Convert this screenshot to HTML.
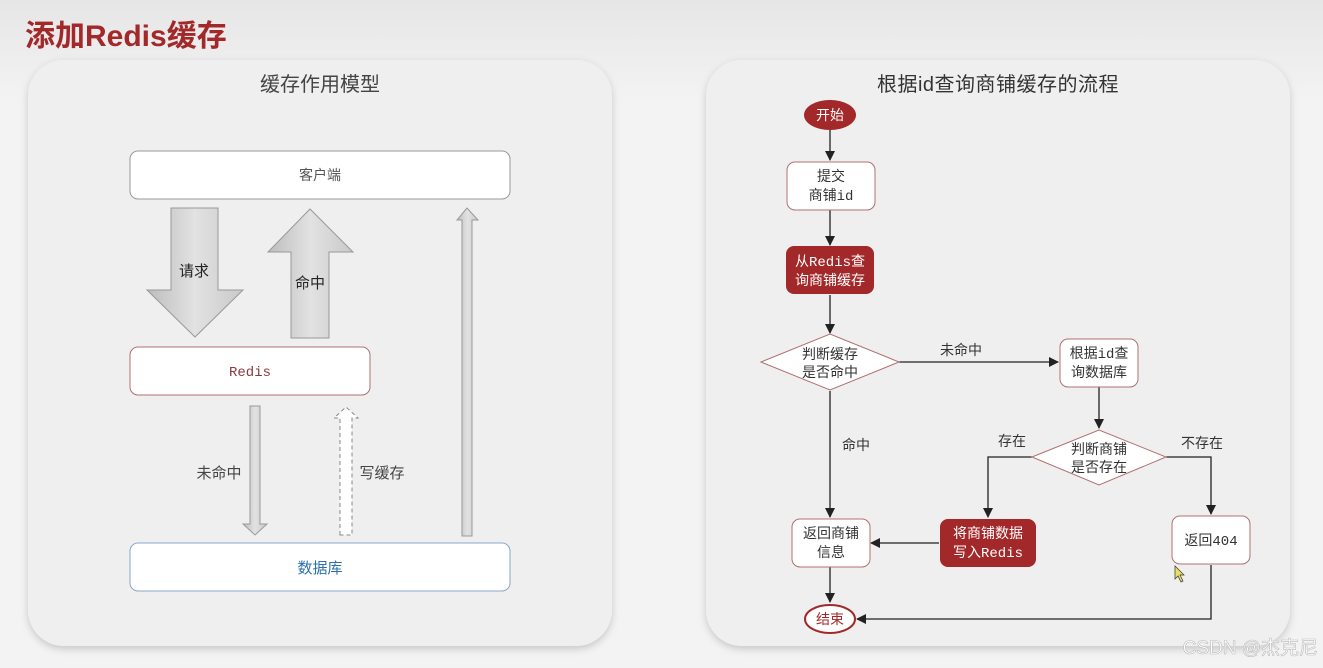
<!DOCTYPE html>
<html><head><meta charset="utf-8"><style>
html,body{margin:0;padding:0;width:1323px;height:668px;overflow:hidden;background:#f2f2f2}
svg{display:block}
text{font-family:"Liberation Sans","Noto Sans CJK SC",sans-serif}
.m{font-family:"Liberation Mono","Noto Sans CJK SC",monospace}
</style></head><body>
<svg width="1323" height="668" viewBox="0 0 1323 668" xmlns="http://www.w3.org/2000/svg">
<defs>
<linearGradient id="bg" x1="0" y1="0" x2="0" y2="1">
<stop offset="0" stop-color="#e6e6e6"/><stop offset="0.15" stop-color="#f3f3f3"/><stop offset="1" stop-color="#f3f3f3"/></linearGradient>
<linearGradient id="ag" x1="0" y1="0" x2="1" y2="0">
<stop offset="0" stop-color="#bdbdbd"/><stop offset="0.5" stop-color="#e2e2e2"/><stop offset="1" stop-color="#c9c9c9"/></linearGradient>
<filter id="sh" x="-5%" y="-5%" width="110%" height="110%"><feDropShadow dx="0" dy="3" stdDeviation="4" flood-color="#000" flood-opacity="0.18"/></filter>
<marker id="ar" markerWidth="10" markerHeight="10" refX="9" refY="5" orient="auto" markerUnits="userSpaceOnUse"><path d="M0,0 L10,5 L0,10 z" fill="#222"/></marker>
</defs>
<rect width="1323" height="668" fill="url(#bg)"/>
<text x="25" y="46" font-size="30" font-weight="bold" fill="#a3282a">添加Redis缓存</text>

<!-- left panel -->
<rect x="28" y="60" width="584" height="586" rx="36" fill="#efefef" filter="url(#sh)"/>
<text x="320" y="91" font-size="20" fill="#444" text-anchor="middle">缓存作用模型</text>
<rect x="130" y="151" width="380" height="48" rx="8" fill="#fff" stroke="#999"/>
<text x="320" y="180" font-size="14" fill="#555" text-anchor="middle">客户端</text>
<path d="M171,208 H218 V290 H243 L195,337 L147,290 H171 Z" fill="url(#ag)" stroke="#999"/>
<text x="194" y="276" font-size="15" fill="#222" text-anchor="middle">请求</text>
<path d="M310,209 L353,252 H329 V338 H291 V252 H268 Z" fill="url(#ag)" stroke="#999"/>
<text x="310" y="288" font-size="15" fill="#222" text-anchor="middle">命中</text>
<path d="M462,536 V220 H457 L467,208 L478,220 H472 V536 Z" fill="url(#ag)" stroke="#999"/>
<rect x="130" y="347" width="240" height="48" rx="8" fill="#fff" stroke="#b07070"/>
<text x="250" y="376" font-size="14" fill="#8a3a3a" text-anchor="middle" class="m">Redis</text>
<path d="M250,406 H260 V524 H267 L255,535 L243,524 H250 Z" fill="url(#ag)" stroke="#999"/>
<text x="219" y="478" font-size="15" fill="#444" text-anchor="middle">未命中</text>
<path d="M340,535 V418 H334 L346,407 L358,418 H352 V535 Z" fill="#fff" stroke="#888" stroke-dasharray="4,3"/>
<text x="382" y="478" font-size="15" fill="#444" text-anchor="middle">写缓存</text>
<rect x="130" y="543" width="380" height="48" rx="8" fill="#fff" stroke="#8aa8c8"/>
<text x="320" y="573" font-size="15" fill="#2a70b0" text-anchor="middle">数据库</text>

<!-- right panel -->
<rect x="706" y="60" width="584" height="586" rx="36" fill="#efefef" filter="url(#sh)"/>
<text x="998" y="91" font-size="20" fill="#333" text-anchor="middle" letter-spacing="0.5">根据id查询商铺缓存的流程</text>
<g stroke="#222" stroke-width="1.3" fill="none">
<line x1="830" y1="130" x2="830" y2="160" marker-end="url(#ar)"/>
<line x1="830" y1="210" x2="830" y2="245" marker-end="url(#ar)"/>
<line x1="830" y1="295" x2="830" y2="333" marker-end="url(#ar)"/>
<line x1="899" y1="362" x2="1058" y2="362" marker-end="url(#ar)"/>
<line x1="830" y1="391" x2="830" y2="517" marker-end="url(#ar)"/>
<line x1="1099" y1="387" x2="1099" y2="428" marker-end="url(#ar)"/>
<polyline points="1032,457 988,457 988,517" marker-end="url(#ar)"/>
<polyline points="1166,457 1211,457 1211,514" marker-end="url(#ar)"/>
<line x1="939" y1="543" x2="871" y2="543" marker-end="url(#ar)"/>
<line x1="830" y1="567" x2="830" y2="602" marker-end="url(#ar)"/>
<polyline points="1211,565 1211,619 857,619" marker-end="url(#ar)"/>
</g>
<ellipse cx="830" cy="115" rx="26" ry="15" fill="#a3282a"/>
<text x="830" y="120" font-size="14" fill="#fff" text-anchor="middle">开始</text>
<rect x="787" y="162" width="88" height="48" rx="8" fill="#fff" stroke="#b07070"/>
<text x="831" y="181" font-size="14" fill="#333" text-anchor="middle" class="m">提交</text>
<text x="831" y="200" font-size="14" fill="#333" text-anchor="middle" class="m">商铺id</text>
<rect x="786" y="246" width="88" height="48" rx="8" fill="#a3282a"/>
<text x="830" y="266" font-size="14" fill="#fff" text-anchor="middle" class="m">从Redis查</text>
<text x="830" y="285" font-size="14" fill="#fff" text-anchor="middle" class="m">询商铺缓存</text>
<polygon points="761,362 830,334 899,362 830,390" fill="#fff" stroke="#b07070"/>
<text x="830" y="359" font-size="14" fill="#333" text-anchor="middle">判断缓存</text>
<text x="830" y="377" font-size="14" fill="#333" text-anchor="middle">是否命中</text>
<text x="961" y="355" font-size="14" fill="#333" text-anchor="middle">未命中</text>
<rect x="1060" y="339" width="78" height="48" rx="8" fill="#fff" stroke="#b07070"/>
<text x="1099" y="358" font-size="14" fill="#333" text-anchor="middle" class="m">根据id查</text>
<text x="1099" y="377" font-size="14" fill="#333" text-anchor="middle">询数据库</text>
<text x="856" y="450" font-size="14" fill="#333" text-anchor="middle">命中</text>
<polygon points="1032,457 1099,430 1166,457 1099,485" fill="#fff" stroke="#b07070"/>
<text x="1099" y="454" font-size="14" fill="#333" text-anchor="middle">判断商铺</text>
<text x="1099" y="472" font-size="14" fill="#333" text-anchor="middle">是否存在</text>
<text x="1012" y="446" font-size="14" fill="#333" text-anchor="middle">存在</text>
<text x="1202" y="448" font-size="14" fill="#333" text-anchor="middle">不存在</text>
<rect x="792" y="519" width="78" height="48" rx="8" fill="#fff" stroke="#b07070"/>
<text x="831" y="538" font-size="14" fill="#333" text-anchor="middle">返回商铺</text>
<text x="831" y="557" font-size="14" fill="#333" text-anchor="middle">信息</text>
<rect x="940" y="519" width="96" height="48" rx="8" fill="#a3282a"/>
<text x="988" y="538" font-size="14" fill="#fff" text-anchor="middle" class="m">将商铺数据</text>
<text x="988" y="557" font-size="14" fill="#fff" text-anchor="middle" class="m">写入Redis</text>
<rect x="1172" y="516" width="78" height="48" rx="8" fill="#fff" stroke="#b07070"/>
<text x="1211" y="545" font-size="14" fill="#333" text-anchor="middle" class="m">返回404</text>
<ellipse cx="830" cy="619" rx="25" ry="14" fill="#fff" stroke="#a3282a" stroke-width="2"/>
<text x="830" y="624" font-size="14" fill="#a3282a" text-anchor="middle">结束</text>
<path d="M1175,566 L1175,579 L1178,576 L1181,582 L1183,581 L1180,575 L1184,575 Z" fill="#e8e060" stroke="#333" stroke-width="0.7"/>
<text x="1318" y="654" font-size="19" fill="#fff" stroke="#bbb" stroke-width="0.6" text-anchor="end">CSDN @杰克尼</text>
</svg>
</body></html>
